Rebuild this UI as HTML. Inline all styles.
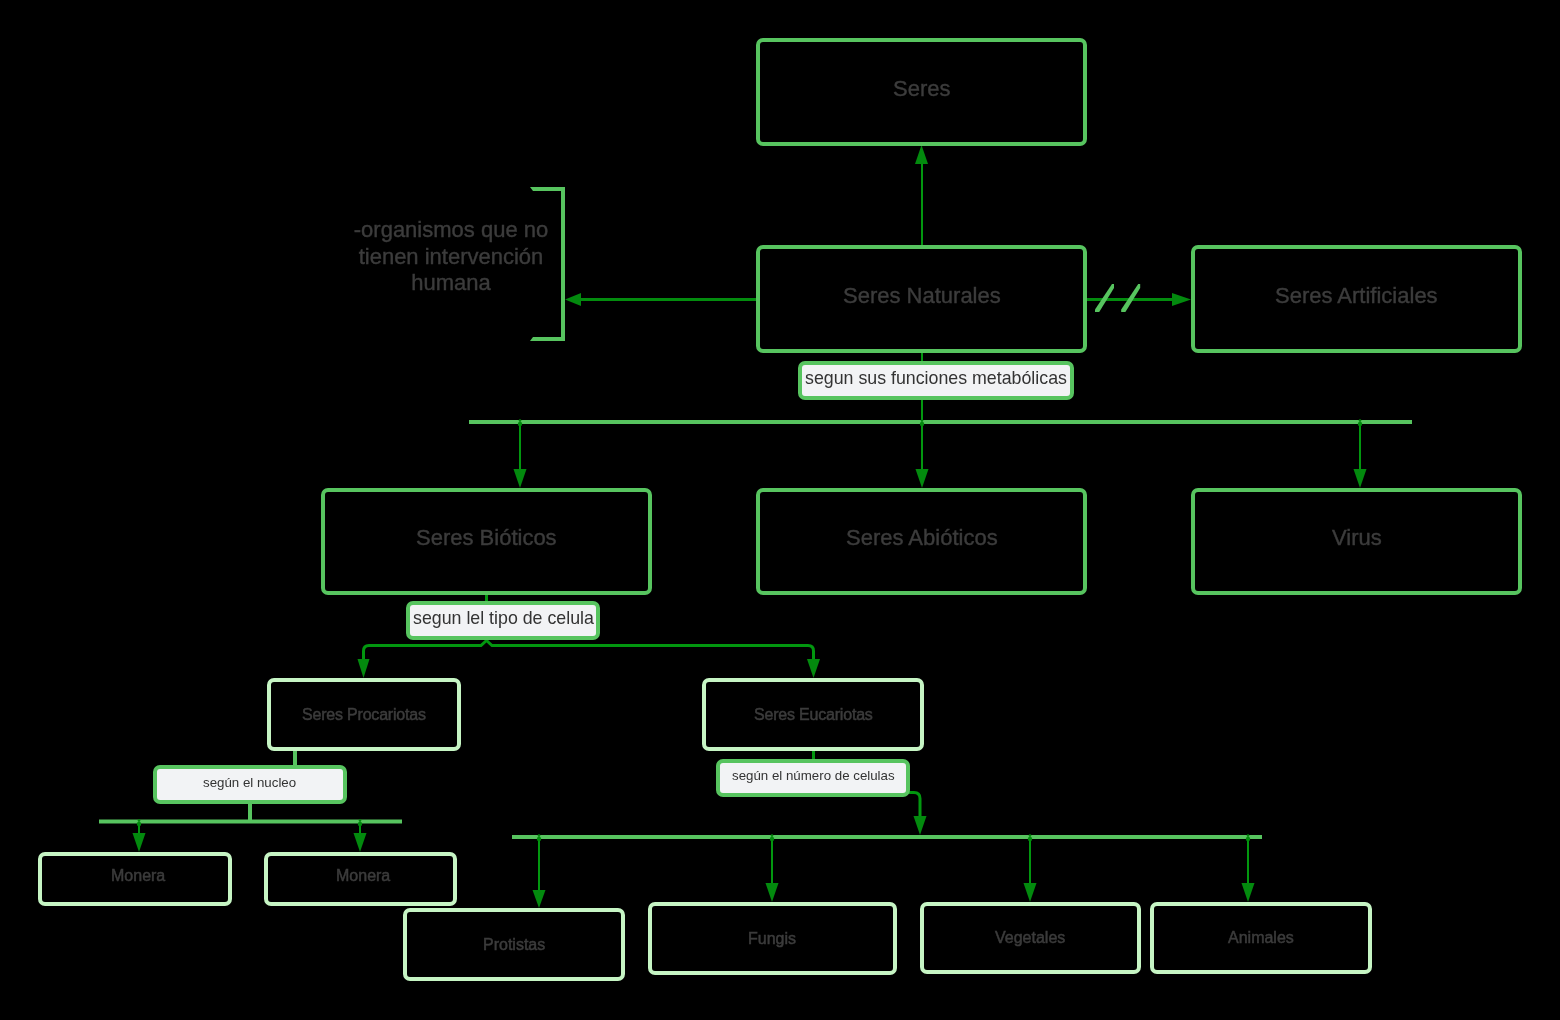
<!DOCTYPE html>
<html><head><meta charset="utf-8">
<style>
html,body{margin:0;padding:0;background:#000;}
body{width:1560px;height:1020px;position:relative;overflow:hidden;font-family:"Liberation Sans",sans-serif;}
.b{position:absolute;box-sizing:border-box;border:4px solid #57c45f;border-radius:7px;display:flex;align-items:center;justify-content:center;color:#3c3c3c;font-size:22px;white-space:nowrap;}
.b span{position:relative;top:-3px;will-change:transform;-webkit-text-stroke:0.4px #3c3c3c;}
.p{border-color:#c6f5c4;font-size:16px;}
.p span{top:0;-webkit-text-stroke:0.5px #3c3c3c;}
.l span{position:relative;top:-2px;will-change:transform;}
.l{position:absolute;box-sizing:border-box;border:4px solid #57c45f;border-radius:7px;background:#f2f3f5;display:flex;align-items:center;justify-content:center;color:#333;font-size:17.8px;white-space:nowrap;}
.s{font-size:13.3px;}
.s span{top:-1px;}
.t{position:absolute;will-change:transform;-webkit-text-stroke:0.4px #3c3c3c;color:#3c3c3c;font-size:22px;text-align:center;line-height:26.5px;white-space:nowrap;}
svg{position:absolute;left:0;top:0;}
</style></head><body>
<svg width="1560" height="1020" viewBox="0 0 1560 1020">
 <g fill="none" stroke-linecap="butt">
  <!-- Seres Naturales -> Seres -->
  <line x1="922" y1="245" x2="922" y2="163" stroke="#02970f" stroke-width="2"/>
  <!-- Naturales -> bracket -->
  <line x1="756" y1="299.5" x2="580" y2="299.5" stroke="#038c0e" stroke-width="3"/>
  <!-- Naturales -> Artificiales -->
  <line x1="1087" y1="299.5" x2="1173" y2="299.5" stroke="#038c0e" stroke-width="3"/>
  <!-- slashes -->
  <polygon fill="#57c45f" points="1095,312 1099.2,312 1114,288 1114,284 1112,284 1095,309.4"/>
  <polygon fill="#57c45f" points="1121.2,312 1125.4,312 1140.2,288 1140.2,284 1138.2,284 1121.2,309.4"/>
  <!-- bracket -->
  <polygon fill="#57c45f" points="530,187 565,187 565,341 530,341 533,337 561,337 561,191 533,191"/>
  <!-- Naturales -> label -> bar -->
  <line x1="922" y1="353" x2="922" y2="362" stroke="#02970f" stroke-width="2"/>
  <line x1="922" y1="399" x2="922" y2="470" stroke="#02970f" stroke-width="2"/>
  <line x1="469" y1="422" x2="1412" y2="422" stroke="#57c45f" stroke-width="4"/>
  <line x1="520" y1="424" x2="520" y2="470" stroke="#02970f" stroke-width="2"/>
  <line x1="1360" y1="424" x2="1360" y2="470" stroke="#02970f" stroke-width="2"/>
  <!-- Bioticos -> label -->
  <line x1="486.5" y1="594" x2="486.5" y2="602" stroke="#02970f" stroke-width="3"/>
  <!-- brace -->
  <path d="M363.5 660 V651 Q363.5 645.5 369 645.5 H481 L486.5 640.5 L492 645.5 H808 Q813.5 645.5 813.5 651 V660" stroke="#02970f" stroke-width="3"/>
  <!-- Procariotas -> nucleo -> bar -->
  <line x1="295" y1="750" x2="295" y2="766" stroke="#57c45f" stroke-width="4"/>
  <line x1="250" y1="802" x2="250" y2="820" stroke="#57c45f" stroke-width="4"/>
  <line x1="99" y1="821.5" x2="402" y2="821.5" stroke="#57c45f" stroke-width="4"/>
  <line x1="139" y1="823" x2="139" y2="834" stroke="#02970f" stroke-width="2"/>
  <line x1="360" y1="823" x2="360" y2="834" stroke="#02970f" stroke-width="2"/>
  <!-- Eucariotas -> numero -->
  <line x1="813.5" y1="750" x2="813.5" y2="761" stroke="#02970f" stroke-width="3"/>
  <path d="M909 792.5 H914 Q920 792.5 920 798.5 V817" stroke="#02970f" stroke-width="3"/>
  <line x1="512" y1="837" x2="1262" y2="837" stroke="#57c45f" stroke-width="4"/>
  <line x1="539" y1="839" x2="539" y2="891" stroke="#02970f" stroke-width="2"/>
  <line x1="772" y1="839" x2="772" y2="884" stroke="#02970f" stroke-width="2"/>
  <line x1="1030" y1="839" x2="1030" y2="884" stroke="#02970f" stroke-width="2"/>
  <line x1="1248" y1="839" x2="1248" y2="884" stroke="#02970f" stroke-width="2"/>
 </g>
 <g fill="#038a0e">
  <circle cx="520" cy="424" r="2.2"/><circle cx="520" cy="420.6" r="1.3"/><circle cx="922" cy="424" r="2.2"/><circle cx="922" cy="420.6" r="1.3"/><circle cx="1360" cy="424" r="2.2"/><circle cx="1360" cy="420.6" r="1.3"/><circle cx="139" cy="824" r="2.2"/><circle cx="139" cy="820.6" r="1.3"/><circle cx="360" cy="824" r="2.2"/><circle cx="360" cy="820.6" r="1.3"/><circle cx="539" cy="839" r="2.2"/><circle cx="539" cy="835.6" r="1.3"/><circle cx="772" cy="839" r="2.2"/><circle cx="772" cy="835.6" r="1.3"/><circle cx="1030" cy="839" r="2.2"/><circle cx="1030" cy="835.6" r="1.3"/><circle cx="1248" cy="839" r="2.2"/><circle cx="1248" cy="835.6" r="1.3"/>
  <polygon points="921.5,145 915,164 928,164"/>
  <polygon points="565,299.5 581,293 581,306"/>
  <polygon points="1191,299.5 1172,293 1172,306"/>
  <polygon points="520,488 513.5,469 526.5,469"/>
  <polygon points="922,488 915.5,469 928.5,469"/>
  <polygon points="1360,488 1353.5,469 1366.5,469"/>
  <polygon points="363.5,678 357.5,659 369.5,659"/>
  <polygon points="813.5,678 807,659 820,659"/>
  <polygon points="139,852 132.5,833 145.5,833"/>
  <polygon points="360,852 353.5,833 366.5,833"/>
  <polygon points="920,835 913.5,816 926.5,816"/>
  <polygon points="539,908 532.5,890 545.5,890"/>
  <polygon points="772,902 765.5,883 778.5,883"/>
  <polygon points="1030,902 1023.5,883 1036.5,883"/>
  <polygon points="1248,902 1241.5,883 1254.5,883"/>
 </g>
</svg>

<div class="b" style="left:756px;top:38px;width:331px;height:108px"><span style="top:-3.5px">Seres</span></div>
<div class="b" style="left:756px;top:245px;width:331px;height:108px"><span>Seres Naturales</span></div>
<div class="b" style="left:1191px;top:245px;width:331px;height:108px"><span>Seres Artificiales</span></div>
<div class="b" style="left:321px;top:488px;width:331px;height:107px"><span style="top:-4px">Seres Bióticos</span></div>
<div class="b" style="left:756px;top:488px;width:331px;height:107px"><span style="top:-4px">Seres Abióticos</span></div>
<div class="b" style="left:1191px;top:488px;width:331px;height:107px"><span style="top:-4px">Virus</span></div>

<div class="t" style="left:301px;top:217px;width:300px">-organismos que no<br>tienen intervención<br>humana</div>

<div class="l" style="left:798px;top:361px;width:276px;height:39px"><span>segun sus funciones metabólicas</span></div>
<div class="l" style="left:406px;top:601px;width:194px;height:39px"><span>segun lel tipo de celula</span></div>
<div class="l s" style="left:153px;top:765px;width:194px;height:39px"><span style="top:-2px">según el nucleo</span></div>
<div class="l s" style="left:716px;top:759px;width:194px;height:38px"><span style="top:-3px">según el número de celulas</span></div>

<div class="b p" style="left:267px;top:678px;width:194px;height:73px"><span style="letter-spacing:-0.2px">Seres Procariotas</span></div>
<div class="b p" style="left:702px;top:678px;width:222px;height:73px"><span style="letter-spacing:-0.2px">Seres Eucariotas</span></div>
<div class="b p" style="left:38px;top:852px;width:194px;height:54px"><span style="top:-3px;left:3px">Monera</span></div>
<div class="b p" style="left:264px;top:852px;width:193px;height:54px"><span style="top:-3px;left:3px">Monera</span></div>
<div class="b p" style="left:403px;top:908px;width:222px;height:73px"><span>Protistas</span></div>
<div class="b p" style="left:648px;top:902px;width:249px;height:73px"><span>Fungis</span></div>
<div class="b p" style="left:920px;top:902px;width:221px;height:72px"><span>Vegetales</span></div>
<div class="b p" style="left:1150px;top:902px;width:222px;height:72px"><span>Animales</span></div>
</body></html>
